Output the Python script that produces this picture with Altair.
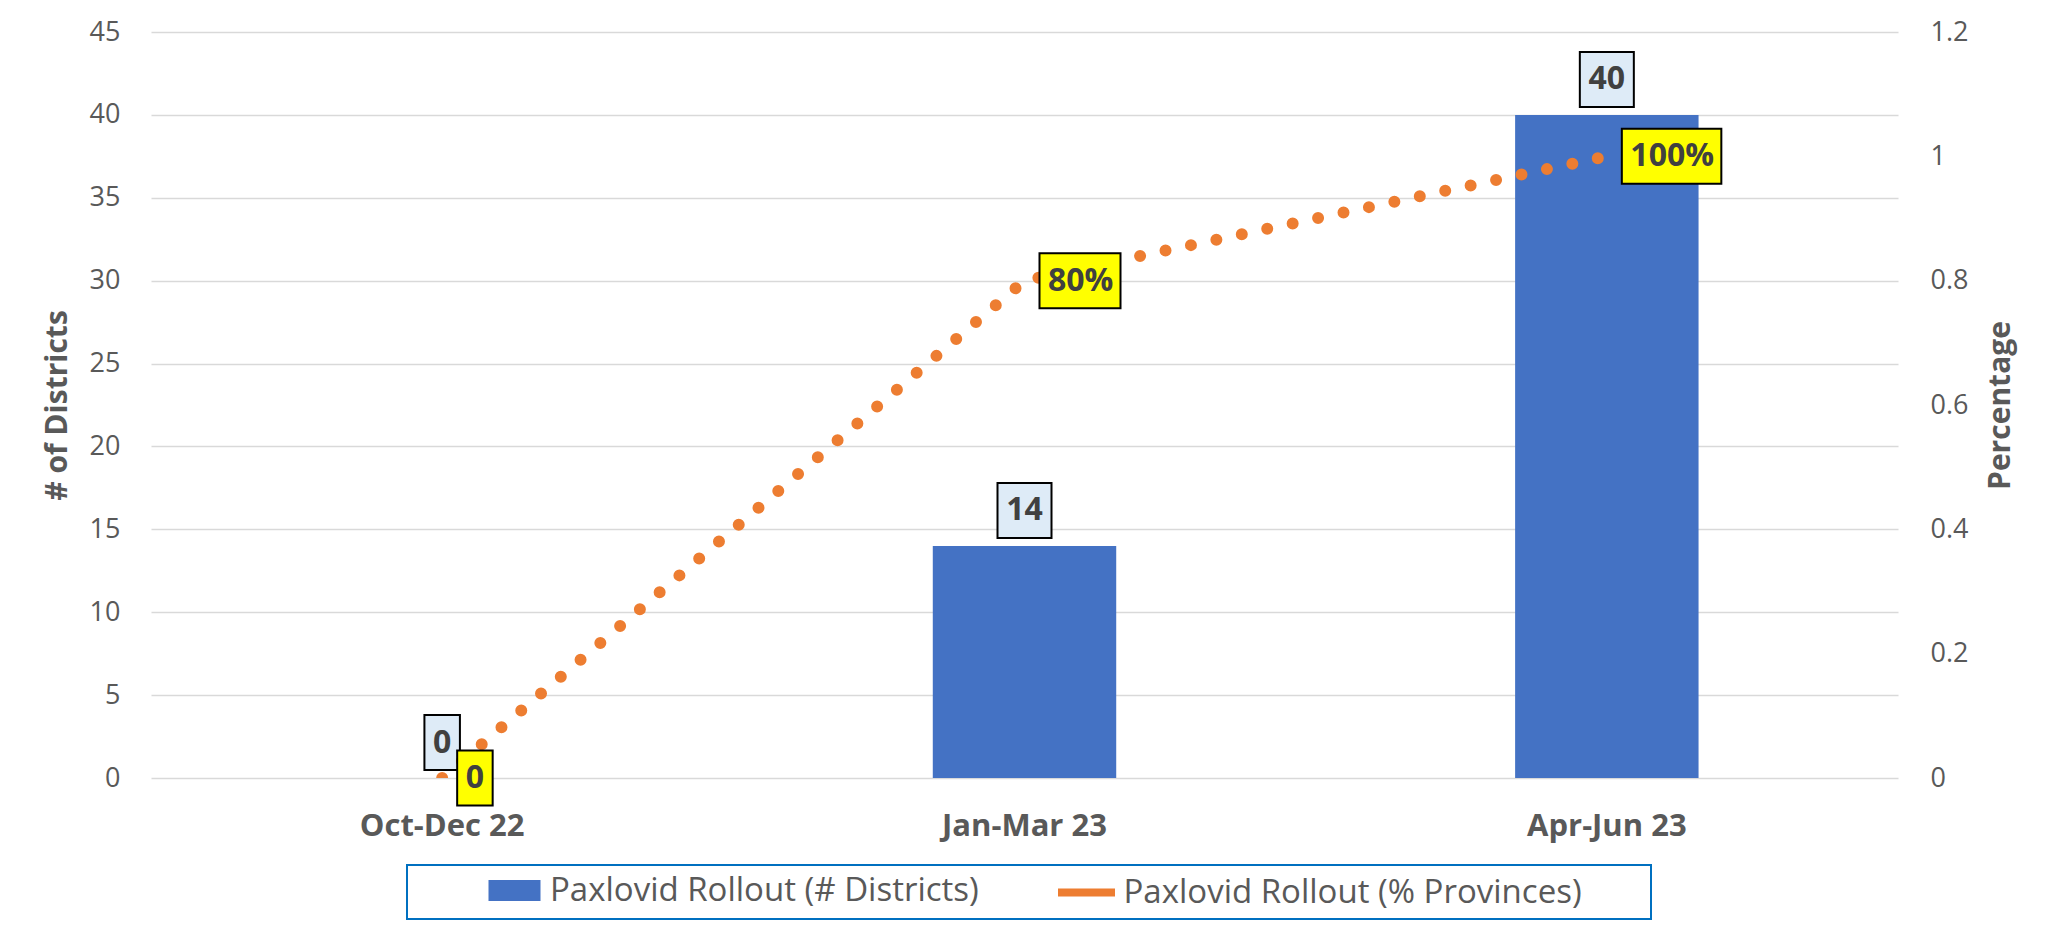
import altair as alt
import pandas as pd

# ---------------- data ----------------
quarters = ["Oct-Dec 22", "Jan-Mar 23", "Apr-Jun 23"]
districts = [0, 14, 40]
pct_provinces = [0.0, 0.8, 1.0]
district_labels = ["0", "14", "40"]
pct_labels = ["0", "80%", "100%"]
series_names = ["Paxlovid Rollout (# Districts)", "Paxlovid Rollout (% Provinces)"]
left_ticks = [0, 5, 10, 15, 20, 25, 30, 35, 40, 45]
right_ticks = [0, 0.2, 0.4, 0.6, 0.8, 1.0, 1.2]

# ---------------- style ----------------
FONT = "Open Sans"
BLUE = "#4472C4"
ORANGE = "#ED7D31"
GRID = "#D9D9D9"
AXIS_TXT = "#595959"
LBL_TXT = "#404040"
LBL_SIZE = 32
W, H = 1747, 746
UNIT = 55.0  # px per path unit (symbol size = (2*UNIT)^2)


def text_w(s):
    return sum(27 if c == "%" else 18.5 for c in s)


def box_path(w, h, cx, cy):
    l, r = (cx - w / 2) / UNIT, (cx + w / 2) / UNIT
    t, b = (cy - h / 2) / UNIT, (cy + h / 2) / UNIT
    return f"M{l:.4f},{t:.4f}H{r:.4f}V{b:.4f}H{l:.4f}Z"


bar_paths = [box_path(text_w(s) + 17, 55, 0, -35.5) for s in district_labels]
line_paths = [box_path(text_w(s) + 17, 55, 15 + (text_w(s) + 17) / 2, 0) for s in pct_labels]

df = pd.DataFrame({
    "quarter": quarters,
    "districts": districts,
    "pct": pct_provinces,
    "dlabel": district_labels,
    "plabel": pct_labels,
    "s_bar": series_names[0],
    "s_line": series_names[1],
})

base = alt.Chart(df)

x_enc = alt.X(
    "quarter:N",
    sort=quarters,
    scale=alt.Scale(paddingInner=0.685, paddingOuter=0.3425),
    axis=alt.Axis(
        title=None, labelAngle=0, ticks=False, domain=False, grid=False,
        labelFont=FONT, labelFontSize=31, labelFontWeight="bold",
        labelColor=AXIS_TXT, labelPadding=33,
    ),
)

y_left = alt.Y(
    "districts:Q",
    scale=alt.Scale(domain=[0, 45], nice=False),
    axis=alt.Axis(
        title="# of Districts", values=left_ticks, grid=True, gridColor=GRID,
        gridWidth=1.5, domain=False, ticks=False, labelPadding=31,
        labelFont=FONT, labelFontSize=27, labelColor=AXIS_TXT,
        titleFont=FONT, titleFontSize=30, titleFontWeight="bold",
        titleColor=AXIS_TXT, titleAngle=270, titleX=-94, titleY=H / 2,
        titleAlign="center", titleBaseline="middle",
    ),
)

y_right = alt.Y(
    "pct:Q",
    scale=alt.Scale(domain=[0, 1.2], nice=False),
    axis=alt.Axis(
        orient="right", title="Percentage", values=right_ticks, format=".1~f",
        grid=False, domain=False, ticks=False, labelPadding=32,
        labelFont=FONT, labelFontSize=27, labelColor=AXIS_TXT,
        titleFont=FONT, titleFontSize=30, titleFontWeight="bold",
        titleColor=AXIS_TXT, titleAngle=270, titleX=102, titleY=H / 2,
        titleAlign="center", titleBaseline="middle",
    ),
)

LEG_FONT = 33
LEG_PAD = 9
legend_bar = alt.Legend(
    title=None, orient="none", legendX=256, legendY=833, direction="horizontal",
    padding=LEG_PAD, symbolType="M-2,-0.8H2V0.8H-2Z", symbolSize=26 * 26,
    symbolOffset=82, labelOffset=19, symbolStrokeWidth=0,
    labelFont=FONT, labelFontSize=LEG_FONT, labelColor=AXIS_TXT, labelLimit=0,
    zindex=2,
)
legend_line = alt.Legend(
    title=".", titleOrient="right", titleColor="transparent", titleFontSize=1,
    titlePadding=59,
    orient="none", legendX=256, legendY=833, direction="horizontal",
    strokeColor="#0070C0", padding=LEG_PAD,
    symbolType="M-2,0H2", symbolSize=28.5 * 28.5, symbolStrokeWidth=8,
    symbolDash=[1, 0], symbolOffset=652, labelOffset=18.5,
    labelFont=FONT, labelFontSize=LEG_FONT, labelColor=AXIS_TXT, labelLimit=0,
    zindex=1,
)

bars = base.mark_bar().encode(
    x=x_enc, y=y_left,
    fill=alt.Fill("s_bar:N", scale=alt.Scale(domain=[series_names[0]], range=[BLUE]), legend=legend_bar),
)

bar_boxes = base.mark_point(
    filled=True, fill="#DEEBF7", stroke="#000000", strokeWidth=2,
    size=(2 * UNIT) ** 2, opacity=1,
).encode(
    x=x_enc, y=y_left,
    shape=alt.Shape("dlabel:N", scale=alt.Scale(domain=district_labels, range=bar_paths), legend=None),
)

bar_text = base.mark_text(
    font=FONT, fontSize=LBL_SIZE, fontWeight="bold", color=LBL_TXT,
    dy=-35.5, baseline="middle", align="center",
).encode(x=x_enc, y=y_left, text="dlabel:N")

line = base.mark_line(
    interpolate="linear", strokeWidth=12, strokeDash=[0, 26],
    strokeCap="round", clip=True,
).encode(
    x=x_enc, y=y_right,
    stroke=alt.Stroke("s_line:N", scale=alt.Scale(domain=[series_names[1]], range=[ORANGE]), legend=legend_line),
)

line_boxes = base.mark_point(
    filled=True, fill="#FFFF00", stroke="#000000", strokeWidth=2,
    size=(2 * UNIT) ** 2, opacity=1,
).encode(
    x=x_enc, y=y_right,
    shape=alt.Shape("plabel:N", scale=alt.Scale(domain=pct_labels, range=line_paths), legend=None),
)

line_text = base.mark_text(
    font=FONT, fontSize=LBL_SIZE, fontWeight="bold", color=LBL_TXT,
    dx=23.5, baseline="middle", align="left",
).encode(x=x_enc, y=y_right, text="plabel:N")

left = alt.layer(bars, bar_boxes, bar_text)
right = alt.layer(line, line_boxes, line_text)

chart = alt.layer(left, right).resolve_scale(
    y="independent", shape="independent"
).properties(
    width=W, height=H,
    autosize=alt.AutoSizeParams(type="none"),
    padding={"left": 143, "top": 24, "right": 146, "bottom": 144},
    background="white",
).configure_view(stroke=None).configure_legend(strokeWidth=2)

chart.save("out.html", embed_options={"renderer": "svg", "actions": False})
